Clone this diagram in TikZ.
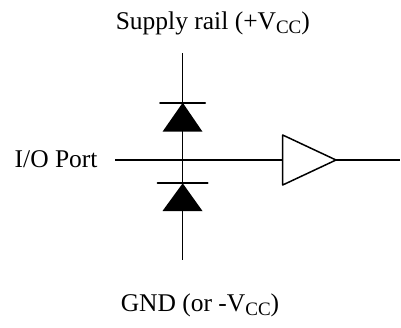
\documentclass[tikz,border=0pt]{standalone}
\usepackage{fontspec}
\setmainfont{Liberation Serif}
\usetikzlibrary{calc}
\newcommand\chiso[1]{\raisebox{-0.17em}{\fontsize{19}{20}\selectfont #1}}
\begin{document}
\begin{tikzpicture}[x=1pt,y=-1pt,line join=round, line width=1.5pt]%Bảo vệ cổng vào
                          \def\xd{182.7}% cột đi-ốt
                          \def\yp{160}% đường tín hiệu
                          \useasboundingbox (0,0) rectangle (401,327);
                          \tikzset{nhan/.style={font=\fontsize{25.5}{28}\selectfont, inner sep=0pt}}
                          \path(\xd,53)coordinate(T)(\xd,260)coordinate(D)(\xd,\yp)coordinate(O)
                               (115,\yp)coordinate(P)(282.7,\yp)coordinate(B)(336,\yp)coordinate(C)(400,\yp)coordinate(R);
                          \draw(T)--(D);
                          \draw(P)--(B);
                          \draw(B)--++(0,-25)--(C)--($(B)+(0,25)$)--cycle;
                          \draw(C)--(R);
                          \foreach \ya/\yb/\w[count=\j] in{102.7/131.7/22.5,183.3/211/25}{
                                  \coordinate(k\j) at (\xd,\ya);
                                  \draw[line cap=round,line width=2pt](\xd-\w,\ya)--(\xd+\w,\ya);
                                  \fill(k\j)--(\xd-20.2,\yb)--(\xd+19.8,\yb)--cycle;
                              }
                          \node[nhan,anchor=base west](tren) at (115,29.5){Supply rail (+V\chiso{CC})};
                          \node[nhan,anchor=base east](cong) at (98.3,167.5){I/O Port};
                          \node[nhan,anchor=base west](duoi) at (120,311.5){GND (or -V\chiso{CC})};
                      \end{tikzpicture}
\end{document}
